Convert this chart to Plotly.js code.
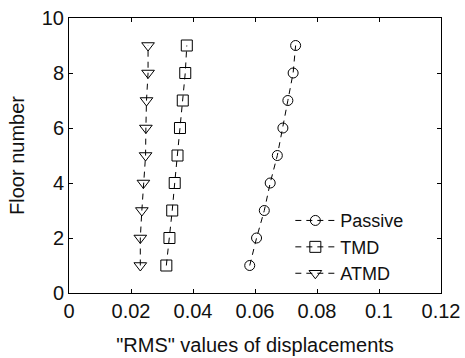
<!DOCTYPE html>
<html>
<head>
<meta charset="utf-8">
<script src="https://cdn.plot.ly/plotly-3.0.1.min.js"></script>
<style>html,body{margin:0;padding:0;background:#fff;}#chart{width:465px;height:358px;}</style>
</head>
<body>
<div id="chart"></div>
<script>
const floors = [1, 2, 3, 4, 5, 6, 7, 8, 9];
const passive = [0.0583, 0.0605, 0.0630, 0.0649, 0.0672, 0.0690, 0.0706, 0.0723, 0.0731];
const tmd = [0.0314, 0.0324, 0.0333, 0.0341, 0.0350, 0.0358, 0.0367, 0.0375, 0.0380];
const atmd = [0.0230, 0.0230, 0.0235, 0.0240, 0.0247, 0.0248, 0.0250, 0.0255, 0.0255];
const seriesNames = ['Passive', 'TMD', 'ATMD'];
const xTickVals = [0, 0.02, 0.04, 0.06, 0.08, 0.1, 0.12];
const yTickVals = [0, 2, 4, 6, 8, 10];

const FONT = 'Liberation Sans, Arial, Helvetica, sans-serif';
const lineStyle = {color: '#000', width: 1, dash: '6px,5px'};

function mk(x, name, symbol, size) {
  return {
    x: x, y: floors, name: name, type: 'scatter', mode: 'lines+markers',
    line: lineStyle,
    marker: {symbol: symbol, size: size, color: '#000', line: {color: '#000', width: 1}}
  };
}

const data = [
  mk(passive, seriesNames[0], 'circle-open', 10),
  mk(tmd, seriesNames[1], 'square-open', 11),
  mk(atmd, seriesNames[2], 'triangle-down-open', 11)
];

const axisCommon = {
  showgrid: false, zeroline: false, showline: true, linecolor: '#000', linewidth: 1,
  mirror: 'ticks', ticks: 'inside', ticklen: 4, tickcolor: '#000', tickwidth: 1,
  tickfont: {family: FONT, size: 20, color: '#111'}
};

const layout = {
  width: 465, height: 358,
  margin: {l: 69, r: 24, t: 18, b: 65},
  paper_bgcolor: '#fff', plot_bgcolor: '#fff',
  font: {family: FONT, color: '#111'},
  showlegend: true,
  legend: {
    x: 0.595, y: 0.33, xanchor: 'left', yanchor: 'top',
    bgcolor: 'rgba(0,0,0,0)', borderwidth: 0,
    font: {family: FONT, size: 18, color: '#111'},
    itemwidth: 40,
    tracegroupgap: 0
  },
  xaxis: Object.assign({}, axisCommon, {
    range: [0, 0.12], tickvals: xTickVals, ticktext: xTickVals.map(String),
    title: {text: '"RMS" values of displacements', font: {family: FONT, size: 20, color: '#111'}, standoff: 16}
  }),
  yaxis: Object.assign({}, axisCommon, {
    range: [0, 10], tickvals: yTickVals, ticktext: yTickVals.map(String),
    title: {text: 'Floor number', font: {family: FONT, size: 20, color: '#111'}, standoff: 11}
  })
};

Plotly.newPlot('chart', data, layout, {displayModeBar: false, staticPlot: true});
</script>
</body>
</html>
